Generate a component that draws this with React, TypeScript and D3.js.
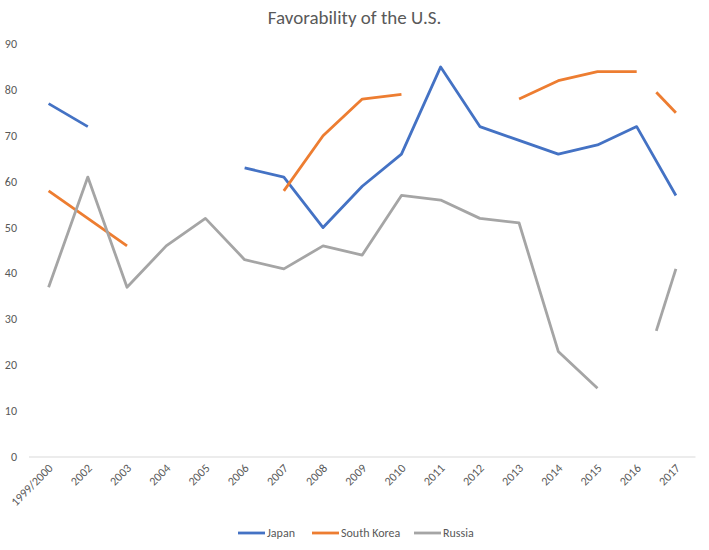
import { useRef, useEffect } from 'react'
import * as d3 from 'd3'

const YEARS = ['1999/2000', '2002', '2003', '2004', '2005', '2006', '2007', '2008', '2009', '2010', '2011', '2012', '2013', '2014', '2015', '2016', '2017']

const JAPAN = [77, 72, null, null, null, 63, 61, 50, 59, 66, 85, 72, 69, 66, 68, 72, 57]
const SOUTH_KOREA = [58, 52, 46, null, null, null, 58, 70, 78, 79, null, null, 78, 82, 84, 84, 75]
const RUSSIA = [37, 61, 37, 46, 52, 43, 41, 46, 44, 57, 56, 52, 51, 23, 15, 14, 41]

// segments (start index) that are hidden, or shown only from their midpoint on
const SK_HALF = [15]
const RU_HIDDEN = [14]
const RU_HALF = [15]

const Y_TICKS = [0, 10, 20, 30, 40, 50, 60, 70, 80, 90]

const SERIES = [
  { name: 'Japan', values: JAPAN, color: '#4472C4', hidden: [] as number[], half: [] as number[] },
  { name: 'South Korea', values: SOUTH_KOREA, color: '#ED7D31', hidden: [] as number[], half: SK_HALF },
  { name: 'Russia', values: RUSSIA, color: '#A5A5A5', hidden: RU_HIDDEN, half: RU_HALF },
]

const FONT = 'Carlito, Calibri, Lato, sans-serif'

export default function App() {
  const svgRef = useRef<SVGSVGElement>(null)

  useEffect(() => {
    if (!svgRef.current) return
    const svg = d3.select(svgRef.current)
    svg.selectAll('*').remove()

    const width = 709
    const height = 550
    const plot = { left: 29, right: 695.5, top: 44, bottom: 457 }

    const x = d3.scaleBand<string>().domain(YEARS).range([plot.left, plot.right])
    const cx = (i: number) => (x(YEARS[Math.floor(i)]) ?? 0) + x.bandwidth() / 2 + (i % 1) * x.step()
    const y = d3.scaleLinear().domain([0, 90]).range([plot.bottom, plot.top])

    svg.append('rect').attr('width', width).attr('height', height).attr('fill', '#fff')

    // Title
    svg.append('text')
      .attr('x', width / 2).attr('y', 24)
      .attr('text-anchor', 'middle')
      .style('font-family', FONT).style('font-size', '19px').style('fill', '#595959')
      .text('Favorability of the U.S.')

    // Y tick labels
    svg.append('g').selectAll('text')
      .data(Y_TICKS)
      .join('text')
      .attr('x', 17).attr('y', d => y(d) + 4)
      .attr('text-anchor', 'end')
      .style('font-family', FONT).style('font-size', '12px').style('fill', '#595959')
      .text(d => d)

    // X axis line
    svg.append('line')
      .attr('x1', plot.left).attr('x2', plot.right)
      .attr('y1', y(0)).attr('y2', y(0))
      .attr('stroke', '#d9d9d9').attr('stroke-width', 1)

    // X tick labels
    svg.append('g').selectAll('text')
      .data(YEARS)
      .join('text')
      .attr('transform', (d, i) => `translate(${cx(i) + 5},${plot.bottom + 12}) rotate(-45)`)
      .attr('text-anchor', 'end')
      .style('font-family', FONT).style('font-size', '12px').style('fill', '#595959')
      .text(d => d)

    // Lines
    const line = d3.line<[number, number]>().x(d => cx(d[0])).y(d => y(d[1]))
    SERIES.forEach(s => {
      const segs: [number, number][][] = []
      let cur: [number, number][] = []
      s.values.forEach((v, i) => {
        if (v == null) {
          if (cur.length) segs.push(cur)
          cur = []
          return
        }
        const prev = i > 0 ? s.values[i - 1] : null
        if (cur.length && (s.hidden.includes(i - 1) || s.half.includes(i - 1))) {
          segs.push(cur)
          cur = []
        }
        if (s.half.includes(i - 1) && prev != null) {
          cur.push([i - 0.5, (prev + v) / 2])
        }
        cur.push([i, v])
      })
      if (cur.length) segs.push(cur)
      svg.append('g').selectAll('path')
        .data(segs.filter(sg => sg.length > 1))
        .join('path')
        .attr('d', d => line(d))
        .attr('fill', 'none')
        .attr('stroke', s.color)
        .attr('stroke-width', 2.8)
        .attr('stroke-linejoin', 'round')
    })

    // Legend
    const legendX = [238, 312, 414]
    const legend = svg.append('g').selectAll('g')
      .data(SERIES)
      .join('g')
      .attr('transform', (d, i) => `translate(${legendX[i]},533)`)
    legend.append('line')
      .attr('x1', 0).attr('x2', 27).attr('y1', 0).attr('y2', 0)
      .attr('stroke', d => d.color).attr('stroke-width', 2.8)
    legend.append('text')
      .attr('x', 29).attr('y', 4)
      .style('font-family', FONT).style('font-size', '12px').style('fill', '#595959')
      .text(d => d.name)
  }, [])

  return (
    <svg ref={svgRef} width={709} height={550}
      style={{ position: 'absolute', left: 0, top: 0, display: 'block' }} />
  )
}
